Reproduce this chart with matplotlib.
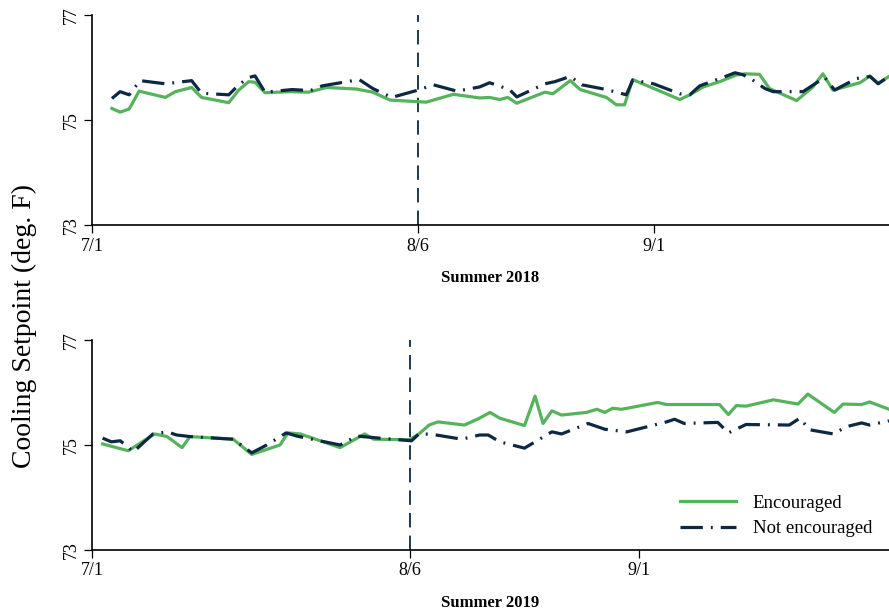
import matplotlib
matplotlib.use("Agg")
import matplotlib.pyplot as plt

plt.rcParams['font.family'] = ['Liberation Serif', 'DejaVu Serif']

# ---- Data (days since 7/1, cooling setpoint deg F) ----
days_2018_enc = [2.2, 3.1, 4.1, 5.2, 8.1, 9.2, 11.0, 12.1, 15.1, 16.2, 17.3, 18.0, 19.1, 21.9,
                 23.9, 25.9, 29.2, 31.0, 32.9, 36.9, 39.9, 42.8, 43.9, 45.0, 45.9, 46.9, 50.0,
                 50.9, 52.8, 53.9, 56.8, 57.9, 58.8, 59.7, 64.9, 66.0, 67.5, 69.3, 71.2, 72.1,
                 73.7, 74.8, 77.8, 79.6, 80.7, 81.8, 84.8, 85.9, 86.8, 88.0]
vals_2018_enc = [75.22, 75.15, 75.21, 75.55, 75.43, 75.54, 75.62, 75.43, 75.33, 75.57, 75.73,
                 75.72, 75.52, 75.54, 75.53, 75.62, 75.59, 75.53, 75.38, 75.34, 75.49, 75.42,
                 75.43, 75.39, 75.43, 75.32, 75.53, 75.50, 75.75, 75.58, 75.43, 75.29, 75.29,
                 75.77, 75.39, 75.48, 75.63, 75.73, 75.86, 75.88, 75.87, 75.60, 75.37, 75.63,
                 75.88, 75.57, 75.71, 75.84, 75.70, 75.83]

days_2018_not = [2.2, 3.1, 4.1, 5.3, 8.1, 11.0, 12.1, 15.1, 16.2, 17.3, 18.0, 19.1, 22.1, 24.1,
                 25.4, 29.5, 31.0, 33.1, 36.0, 37.7, 40.3, 42.8, 43.9, 46.1, 46.9, 50.0, 51.1,
                 52.8, 54.1, 56.8, 59.0, 59.7, 62.0, 64.9, 66.0, 67.1, 70.1, 71.0, 71.9, 72.8,
                 74.3, 75.2, 78.5, 80.9, 82.0, 84.4, 85.9, 86.8, 88.0]
vals_2018_not = [75.41, 75.54, 75.48, 75.75, 75.69, 75.75, 75.51, 75.48, 75.67, 75.81, 75.84,
                 75.53, 75.58, 75.56, 75.65, 75.77, 75.60, 75.43, 75.57, 75.67, 75.55, 75.63,
                 75.71, 75.58, 75.44, 75.69, 75.73, 75.83, 75.67, 75.58, 75.48, 75.76, 75.69,
                 75.50, 75.48, 75.65, 75.84, 75.90, 75.86, 75.78, 75.60, 75.54, 75.54, 75.81,
                 75.57, 75.79, 75.83, 75.69, 75.83]

days_2019_enc = [1.2, 4.1, 7.1, 8.5, 10.2, 11.1, 16.0, 18.1, 21.3, 22.2, 23.6, 28.1, 30.9, 31.9,
                 36.0, 37.1, 38.2, 39.2, 42.2, 43.9, 45.1, 46.2, 49.0, 50.2, 51.1, 52.1, 53.2,
                 56.0, 57.2, 58.1, 59.0, 60.0, 64.1, 65.1, 71.1, 72.1, 73.0, 74.1, 77.2, 80.0,
                 81.1, 84.1, 85.1, 87.2, 88.1, 90.3]
vals_2019_enc = [75.02, 74.89, 75.21, 75.16, 74.95, 75.16, 75.11, 74.82, 75.00, 75.23, 75.21,
                 74.95, 75.21, 75.11, 75.10, 75.22, 75.38, 75.44, 75.38, 75.51, 75.62, 75.51,
                 75.37, 75.93, 75.41, 75.65, 75.57, 75.62, 75.68, 75.62, 75.70, 75.68, 75.81,
                 75.77, 75.77, 75.58, 75.75, 75.74, 75.86, 75.78, 75.97, 75.62, 75.78, 75.77,
                 75.82, 75.68]

days_2019_not = [1.2, 2.2, 3.2, 4.7, 6.9, 8.5, 9.6, 11.1, 16.0, 18.1, 19.8, 22.0, 23.2, 28.1,
                 30.0, 32.6, 36.2, 37.1, 39.0, 41.9, 43.9, 44.9, 46.2, 49.0, 50.2, 52.1, 53.2,
                 56.2, 58.1, 60.6, 65.1, 66.0, 67.1, 70.9, 72.1, 74.1, 79.0, 80.2, 81.3, 84.0,
                 85.5, 87.2, 88.1, 90.3]
vals_2019_not = [75.13, 75.06, 75.08, 74.87, 75.21, 75.25, 75.19, 75.16, 75.11, 74.85, 75.00,
                 75.23, 75.17, 75.00, 75.17, 75.13, 75.08, 75.22, 75.19, 75.11, 75.19, 75.19,
                 75.06, 74.94, 75.06, 75.25, 75.21, 75.41, 75.30, 75.25, 75.44, 75.49, 75.41,
                 75.43, 75.23, 75.39, 75.38, 75.51, 75.29, 75.21, 75.35, 75.42, 75.38, 75.46]

tick_days = [0, 36, 62]
tick_labels = ['7/1', '8/6', '9/1']
yticks = [73, 75, 77]
treat_day = 36
series_labels = ['Encouraged', 'Not encouraged']
panel_titles = ['Summer 2018', 'Summer 2019']
xmax = [88.0, 90.3]

GREEN = '#55b45b'
NAVY = '#0c2842'

fig = plt.figure(figsize=(8.89, 6.15), dpi=100)
ax1 = fig.add_axes([0.1035, 0.6341, 0.8965, 0.3415])
ax2 = fig.add_axes([0.1035, 0.1057, 0.8965, 0.3415])

data = [(days_2018_enc, vals_2018_enc, days_2018_not, vals_2018_not),
        (days_2019_enc, vals_2019_enc, days_2019_not, vals_2019_not)]

for i, (ax, (de, ve, dn, vn)) in enumerate(zip([ax1, ax2], data)):
    ax.plot(de, ve, color=GREEN, lw=2.3, label=series_labels[0], zorder=3)
    ax.plot(dn, vn, color=NAVY, lw=2.3, linestyle=(0, (7, 2.5, 0.6, 2.5)),
            label=series_labels[1], zorder=4)
    ax.axvline(treat_day, color=NAVY, lw=1.3, linestyle=(0, (8, 4.5)), zorder=2)
    ax.set_xlim(0, xmax[i])
    ax.set_ylim(73, 77)
    ax.set_yticks(yticks)
    ax.set_yticklabels([str(y) for y in yticks], rotation=90, va='center', fontsize=13)
    ax.set_xticks(tick_days)
    ax.set_xticklabels(tick_labels, fontsize=13)
    ax.tick_params(axis='both', direction='out', length=6, width=0.9, pad=3)
    for s in ['top', 'right']:
        ax.spines[s].set_visible(False)
    for s in ['left', 'bottom']:
        ax.spines[s].set_linewidth(1.2)
    ax.set_xlabel(panel_titles[i], fontsize=12, fontweight='bold', labelpad=11)

ax2.legend(loc='lower right', bbox_to_anchor=(1.0, -0.02), frameon=False, fontsize=13.5,
           handlelength=3.0, handletextpad=0.9, labelspacing=0.45)

fig.text(0.028, 0.47, 'Cooling Setpoint (deg. F)', rotation=90, ha='center', va='center',
         fontsize=20)

fig.savefig('out.png', dpi=100)
